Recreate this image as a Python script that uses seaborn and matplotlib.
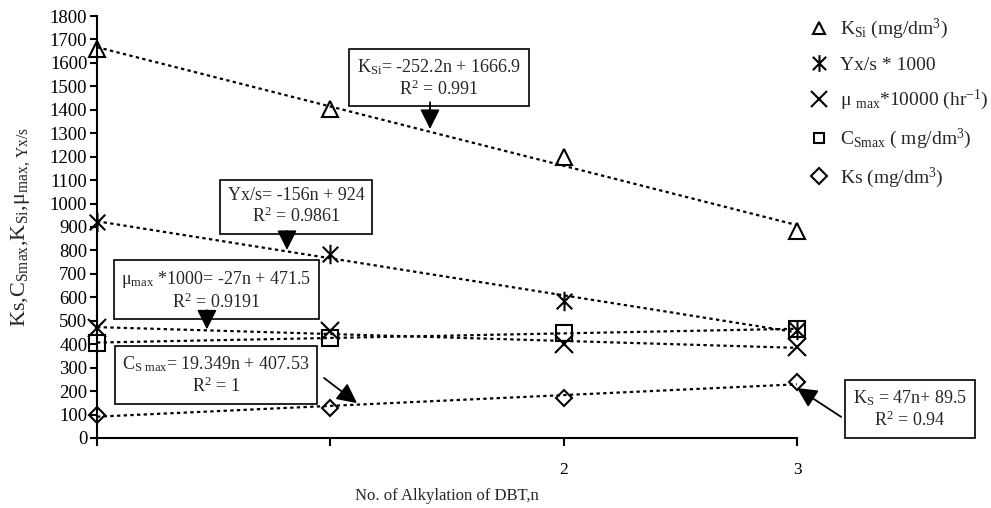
import matplotlib
matplotlib.use("Agg")
import pandas as pd
import seaborn as sns
import matplotlib.pyplot as plt
from matplotlib.lines import Line2D
from matplotlib.path import Path

# values
n_alkyl = [0, 1, 2, 3]
ksi = [1660, 1405, 1200, 885]
yxs = [920, 785, 585, 460]
mu_max = [470, 455, 400, 390]
cs_max = [407, 427, 446, 466]
ks = [100, 130, 170, 240]

series = ["KSi", "Yxs", "mu", "CSmax", "Ks"]
legend_labels = [
    r"K$_{\mathrm{Si}}$ (mg/dm$^{3}$)",
    "Yx/s * 1000",
    r"μ $_{\mathrm{max}}$*10000 (hr$^{\mathrm{-1}}$)",
    r"C$_{\mathrm{Smax}}$ ( mg/dm$^{3}$)",
    r"Ks (mg/dm$^{3}$)",
]
eq_texts = [
    "K$_{\\mathrm{Si}}$= -252.2n + 1666.9\nR$^{2}$ = 0.991",
    "Yx/s= -156n + 924\nR$^{2}$ = 0.9861",
    "μ$_{\\mathrm{max}}$ *1000= -27n + 471.5\nR$^{2}$ = 0.9191",
    "C$_{\\mathrm{S\\ max}}$= 19.349n + 407.53\nR$^{2}$ = 1",
    "K$_{\\mathrm{S}}$ = 47n+ 89.5\nR$^{2}$ = 0.94",
]

# asterisk like the Excel one: an x with a vertical bar through it
M, L = Path.MOVETO, Path.LINETO
asterisk = Path([(-0.8, -0.8), (0.8, 0.8), (-0.8, 0.8), (0.8, -0.8), (0, -1), (0, 1)],
                [M, L, M, L, M, L])

# marker style per series: (marker, size in plot, size in legend)
markers = {
    "KSi": ("^", 12, 9),
    "Yxs": (asterisk, 14, 12),
    "mu": ("x", 13, 11),
    "CSmax": ("s", 11.5, 7),
    "Ks": ("D", 8, 8),
}

# annotation layout: box centre, arrow start, arrow tip (data coords)
boxes = [
    ((1.466, 1536), (1.427, 1432), (1.427, 1318)),
    ((0.853, 987), (0.814, 883), (0.814, 802)),
    ((0.512, 629), (0.471, 545), (0.471, 463)),
    ((0.510, 267), (0.973, 256), (1.114, 149)),
    ((3.484, 122), (3.189, 90), (3.0, 213)),
]

df = pd.DataFrame({"n": n_alkyl, "KSi": ksi, "Yxs": yxs, "mu": mu_max,
                   "CSmax": cs_max, "Ks": ks})
long = df.melt(id_vars="n", var_name="series", value_name="value")

sns.set_style("ticks")
plt.rcParams["font.family"] = ["Liberation Serif", "DejaVu Serif"]
plt.rcParams["mathtext.fontset"] = "custom"
plt.rcParams["mathtext.rm"] = "Liberation Serif"
plt.rcParams["mathtext.it"] = "Liberation Serif:italic"
plt.rcParams["mathtext.bf"] = "Liberation Serif:bold"

fig = plt.figure(figsize=(9.91, 5.08), dpi=100)
ax = fig.add_axes([0.0979, 0.1378, 0.7064, 0.8307])

dotted = dict(color="black", lw=1.6, ls=(0, (1.5, 1.5)))
for name in series:
    sub = long[long["series"] == name]
    mk, ms, _ = markers[name]
    sns.regplot(data=sub, x="n", y="value", scatter=False, ci=None,
                truncate=True, ax=ax, line_kws=dotted)
    sns.lineplot(data=sub, x="n", y="value", ax=ax, errorbar=None,
                 linestyle="none", marker=mk, markersize=ms, color="black",
                 markerfacecolor="none", markeredgecolor="black",
                 markeredgewidth=1.5, clip_on=False, zorder=5, legend=False)

ax.set_xlim(0, 3)
ax.set_ylim(0, 1800)
ax.set_yticks(range(0, 1900, 100))
ax.set_xticks(n_alkyl)
ax.set_xticklabels(["", "", "2", "3"])
sns.despine(ax=ax)
for side in ["left", "bottom"]:
    ax.spines[side].set_linewidth(1.5)
    ax.spines[side].set_color("black")
ax.tick_params(axis="y", direction="out", length=5, width=1.5, pad=2,
               labelsize=13.5, colors="black")
ax.tick_params(axis="x", direction="out", length=6, width=1.5, pad=11,
               labelsize=12.5, colors="black")

ax.set_xlabel("No. of Alkylation of DBT,n", fontsize=12)
ax.xaxis.set_label_coords(0.5, -0.118)
ax.set_ylabel(r"Ks,C$_{\mathrm{Smax}}$,K$_{\mathrm{Si}}$,μ$_{\mathrm{max,\,Yx/s}}$",
              fontsize=16)
ax.yaxis.set_label_coords(-0.093, 0.5)

for text, (centre, start, tip) in zip(eq_texts, boxes):
    ax.text(centre[0], centre[1], text, ha="center", va="center",
            multialignment="center", fontsize=13, linespacing=1.15,
            bbox=dict(boxstyle="square,pad=0.42", fc="white", ec="black", lw=1.2),
            zorder=6, clip_on=False)
    ax.annotate("", xy=tip, xytext=start, annotation_clip=False, zorder=7,
                arrowprops=dict(arrowstyle="-|>,head_length=0.6,head_width=0.3",
                                mutation_scale=20, color="black", lw=1.3,
                                shrinkA=0, shrinkB=0))

handles = [Line2D([], [], ls="none", marker=markers[s][0], ms=markers[s][2],
                  mfc="none", mec="black", color="black", mew=1.5)
           for s in series]
fig.legend(handles, legend_labels, loc="upper left",
           bbox_to_anchor=(807 / 991, 1 - 17 / 508), frameon=False, fontsize=14,
           handlelength=1.2, handletextpad=0.5, labelspacing=0.75,
           borderaxespad=0, borderpad=0)

fig.savefig("out.png", dpi=100)
